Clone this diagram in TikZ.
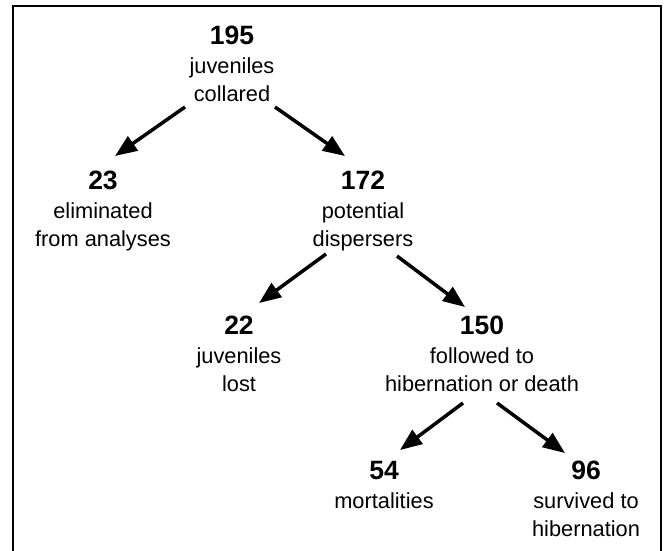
\documentclass[tikz,border=0pt]{standalone}
\usepackage{fontspec}
\setmainfont{Liberation Sans}
\usetikzlibrary{arrows.meta,calc}
\begin{document}
\begin{tikzpicture}[x=1pt,y=-1pt,
  num/.style={anchor=base,font=\fontsize{26.5}{30}\selectfont\bfseries,inner sep=0pt},
  txt/.style={anchor=base,font=\fontsize{21.8}{26}\selectfont,inner sep=0pt},
  arr/.style={line width=3.5pt,-{Triangle[length=22pt,width=17pt]}},
  frame/.style={line width=2.2pt}]
\useasboundingbox (0,0) rectangle (666,550);
\begin{scope}
  \clip (0,0) rectangle (666,550);
  \draw[frame] (13,6) rectangle (661,580);
  \draw[line width=1pt] (12,6) -- (12,580);
\end{scope}

% level 1
\node[num] (n195) at (232,44) {195};
\node[txt] (a195) at (232,73) {juveniles};
\node[txt] (b195) at (232,101) {collared};
% level 2
\node[num] (n23) at (103,189) {23};
\node[txt] (a23) at (103,218) {eliminated};
\node[txt] (b23) at (103,246) {from analyses};
\node[num] (n172) at (363,189) {172};
\node[txt] (a172) at (363,218) {potential};
\node[txt] (b172) at (363,246) {dispersers};
% level 3
\node[num] (n22) at (239,334) {22};
\node[txt] (a22) at (239,363) {juveniles};
\node[txt] (b22) at (239,391) {lost};
\node[num] (n150) at (482,334) {150};
\node[txt] (a150) at (482,363) {followed to};
\node[txt] (b150) at (482,391) {hibernation or death};
% level 4
\node[num] (n54) at (384,479) {54};
\node[txt] (a54) at (384,508) {mortalities};
\node[num] (n96) at (586,479) {96};
\node[txt] (a96) at (586,508) {survived to};
\node[txt] (b96) at (586,536) {hibernation};

% arrows
\draw[arr] ($(n195.base)+(-47,63)$) -- ($(n23.base)+(12,-33)$);
\draw[arr] ($(n195.base)+(43,63)$) -- ($(n172.base)+(-18,-33)$);
\draw[arr] ($(n172.base)+(-37,65)$) -- ($(n22.base)+(20,-31)$);
\draw[arr] ($(n172.base)+(34,67)$) -- ($(n150.base)+(-17,-27)$);
\draw[arr] ($(n150.base)+(-19,69)$) -- ($(n54.base)+(16,-29)$);
\draw[arr] ($(n150.base)+(15,69)$) -- ($(n96.base)+(-21,-26)$);
\end{tikzpicture}
\end{document}
